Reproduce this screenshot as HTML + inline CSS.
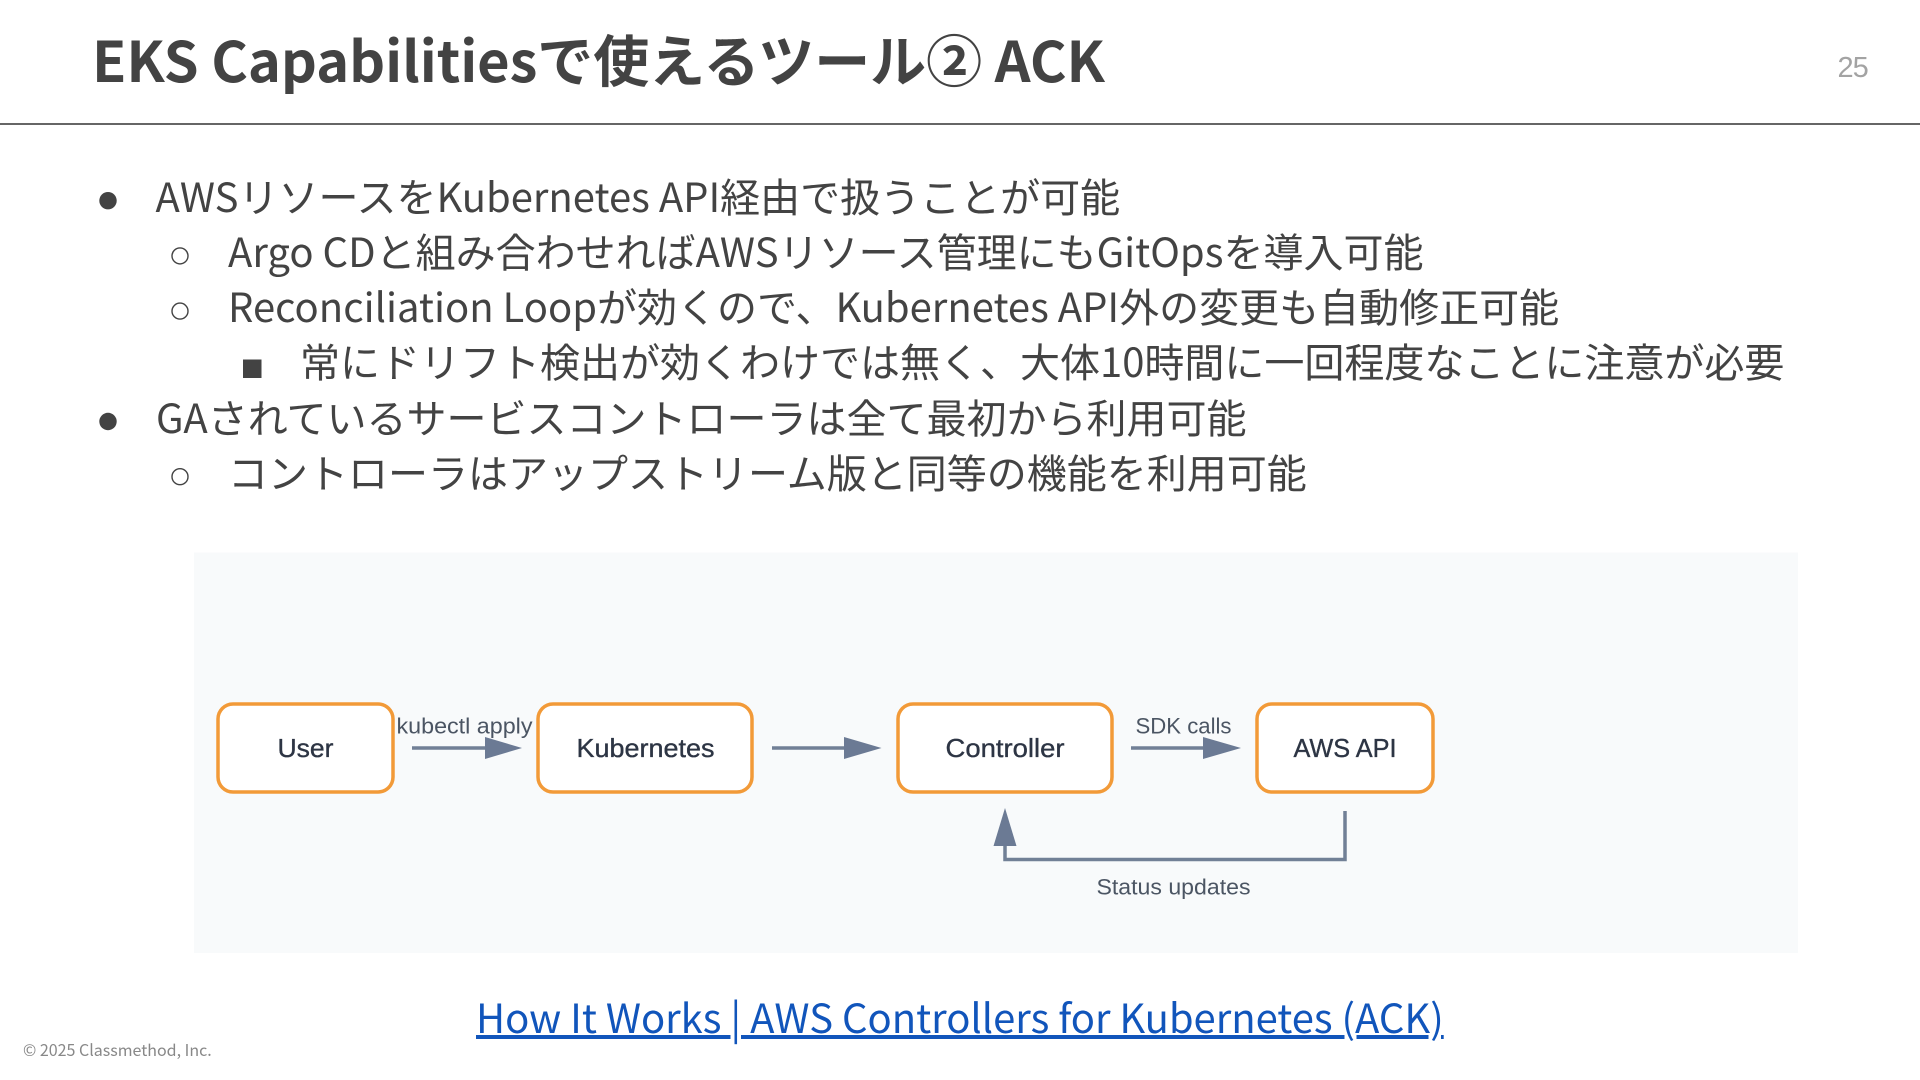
<!DOCTYPE html>
<html lang="ja"><head><meta charset="utf-8"><style>
html,body{margin:0;padding:0;background:#fff}
body{width:1920px;height:1080px;position:relative;overflow:hidden;font-family:"Liberation Sans","Noto Sans CJK JP",sans-serif}
.t{position:absolute;white-space:nowrap;font-family:"Noto Sans CJK JP",sans-serif;color:#434343;font-size:40px;line-height:56px;height:56px;letter-spacing:0}
svg{position:absolute;left:0;top:0}
</style></head><body>
<div class="t" style="left:92px;top:21px;font-size:56px;line-height:76px;height:76px;font-weight:700;letter-spacing:-0.06px">EKS Capabilitiesで使えるツール② ACK</div>
<div style="position:absolute;left:0;top:123px;width:1920px;height:2px;background:#666"></div>
<div style="position:absolute;left:1837.500px;top:51.500px;font-size:29px;color:#a3a3a3;letter-spacing:-1px">25</div>
<div class="t" style="left:155.500px;top:166.700px">AWSリソースをKubernetes API経由で扱うことが可能</div>
<div class="t" style="left:228px;top:221.900px">Argo CDと組み合わせればAWSリソース管理にもGitOpsを導入可能</div>
<div class="t" style="left:228px;top:277.100px">Reconciliation Loopが効くので、Kubernetes API外の変更も自動修正可能</div>
<div class="t" style="left:300px;top:332.300px">常にドリフト検出が効くわけでは無く、大体10時間に一回程度なことに注意が必要</div>
<div class="t" style="left:156px;top:387.500px">GAされているサービスコントローラは全て最初から利用可能</div>
<div class="t" style="left:228px;top:442.700px">コントローラはアップストリーム版と同等の機能を利用可能</div>
<svg width="1920" height="1080" viewBox="0 0 1920 1080" font-family="Liberation Sans, sans-serif">
<g fill="#434343">
<circle cx="108" cy="200.700" r="8.700"/><circle cx="108" cy="421.500" r="8.700"/>
<rect x="243" y="359.500" width="18.500" height="18.500"/>
</g>
<g fill="none" stroke="#434343" stroke-width="1.400">
<circle cx="180" cy="255.900" r="8"/><circle cx="180" cy="311.100" r="8"/><circle cx="180" cy="476.700" r="8"/>
</g>
<rect x="194" y="552.500" width="1604" height="400.500" fill="#f8fafb"/>
<g fill="#fff" stroke="#f29a38" stroke-width="3.500">
<rect x="218" y="704" width="175" height="88" rx="15"/>
<rect x="538" y="704" width="214" height="88" rx="15"/>
<rect x="898" y="704" width="214" height="88" rx="15"/>
<rect x="1257" y="704" width="176" height="88" rx="15"/>
</g>
<g fill="#2d3544" font-size="26" text-anchor="middle" stroke="#2d3544" stroke-width=".35">
<text x="305.500" y="757" textLength="56" lengthAdjust="spacingAndGlyphs">User</text>
<text x="645.500" y="757" textLength="138" lengthAdjust="spacingAndGlyphs">Kubernetes</text>
<text x="1005" y="757" textLength="119" lengthAdjust="spacingAndGlyphs">Controller</text>
<text x="1345" y="757" textLength="103" lengthAdjust="spacingAndGlyphs">AWS API</text>
</g>
<g fill="#4b5563" font-size="22" text-anchor="middle">
<text x="464.500" y="733.500" textLength="136" lengthAdjust="spacingAndGlyphs">kubectl apply</text>
<text x="1183.500" y="733.500" textLength="96" lengthAdjust="spacingAndGlyphs">SDK calls</text>
<text x="1173.500" y="894.500" textLength="154" lengthAdjust="spacingAndGlyphs">Status updates</text>
</g>
<g stroke="#718096" stroke-width="3.500" fill="none">
<path d="M412 748H490"/><path d="M772 748H850"/><path d="M1131 748H1209"/>
<path d="M1345 811V859.500H1005V840"/>
</g>
<g fill="#6b7a94">
<path d="M485 737L522 748L485 759Z"/><path d="M844 737L881.500 748L844 759Z"/><path d="M1203 737L1241 748L1203 759Z"/>
<path d="M1005 808L1016.500 846H993.500Z"/>
</g>
</svg>
<div class="t" style="left:476px;top:988px;color:#1155bb;text-decoration:underline;letter-spacing:-0.02px">How It Works | AWS Controllers for Kubernetes (ACK)</div>
<div class="t" style="left:23px;top:1036px;font-size:16px;line-height:26px;height:26px;color:#888">© 2025 Classmethod, Inc.</div>
</body></html>
